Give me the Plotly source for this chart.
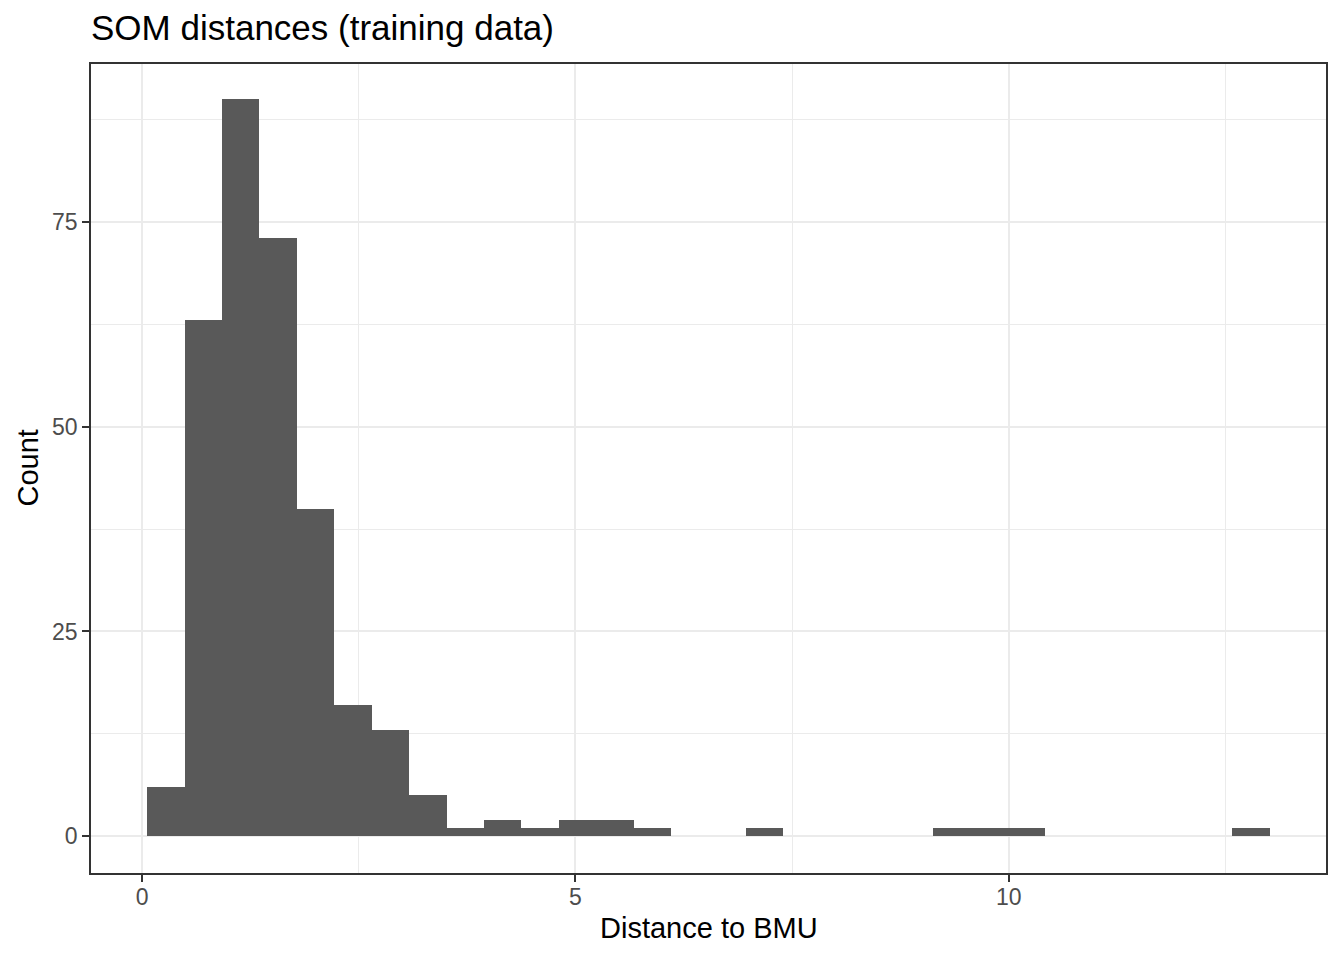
import plotly.graph_objects as go

# Histogram data (30 bins)
bin_start = 0.0575
bin_width = 0.4318
counts = [6, 63, 90, 73, 40, 16, 13, 5, 1, 2, 1, 2, 2, 1, 0, 0, 1, 0, 0, 0,
          0, 1, 1, 1, 0, 0, 0, 0, 0, 1]
x_ticks = [0, 5, 10]
y_ticks = [0, 25, 50, 75]

centers = [bin_start + bin_width * (i + 0.5) for i in range(len(counts))]

FONT = "Liberation Sans, Arial, sans-serif"

# page has an 8px body margin; compensate so the figure fills the window
W, H = 1328, 944
fig = go.Figure()
fig.add_trace(go.Bar(
    x=centers, y=counts, width=[bin_width] * len(counts),
    marker=dict(color="#595959", line=dict(width=0)),
    hoverinfo="x+y", showlegend=False,
))

fig.update_layout(
    width=W, height=H,
    margin=dict(l=83, r=8, t=56, b=79),
    paper_bgcolor="white", plot_bgcolor="white",
    bargap=0,
    font=dict(family=FONT, color="#000000"),
    title=dict(text="SOM distances (training data)", x=83 / W, xanchor="left",
               xref="container", y=1 - 20 / H, yanchor="middle", yref="container",
               font=dict(size=35, color="#000000", family=FONT)),
    xaxis=dict(
        range=[-0.59, 13.66], tickvals=x_ticks, ticktext=[str(v) for v in x_ticks],
        showgrid=True, gridcolor="#EBEBEB", gridwidth=2,
        minor=dict(dtick=2.5, tick0=0, showgrid=True, gridcolor="#EBEBEB", gridwidth=1),
        zeroline=False, showline=True, mirror=True, linecolor="#333333", linewidth=1.5,
        ticks="outside", ticklen=7, tickwidth=1.5, tickcolor="#333333",
        ticklabelstandoff=-4,
        tickfont=dict(size=23, color="#4D4D4D", family=FONT),
    ),
    yaxis=dict(
        range=[-4.5, 94.3], tickvals=y_ticks, ticktext=[str(v) for v in y_ticks],
        showgrid=True, gridcolor="#EBEBEB", gridwidth=2,
        minor=dict(dtick=12.5, tick0=0, showgrid=True, gridcolor="#EBEBEB", gridwidth=1),
        zeroline=False, showline=True, mirror=True, linecolor="#333333", linewidth=1.5,
        ticks="outside", ticklen=7, tickwidth=1.5, tickcolor="#333333",
        tickfont=dict(size=23, color="#4D4D4D", family=FONT),
    ),
    annotations=[
        dict(text="Distance to BMU", xref="paper", yref="paper", x=0.5, y=0,
             yshift=-(928 - 873), xanchor="center", yanchor="middle", showarrow=False,
             font=dict(size=29, color="#000000", family=FONT)),
        dict(text="Count", xref="paper", yref="paper", x=0, y=0.5,
             xshift=-(91 - 27), xanchor="center", yanchor="middle", showarrow=False,
             textangle=-90, font=dict(size=29, color="#000000", family=FONT)),
    ],
)

fig.write_html("out.html")
